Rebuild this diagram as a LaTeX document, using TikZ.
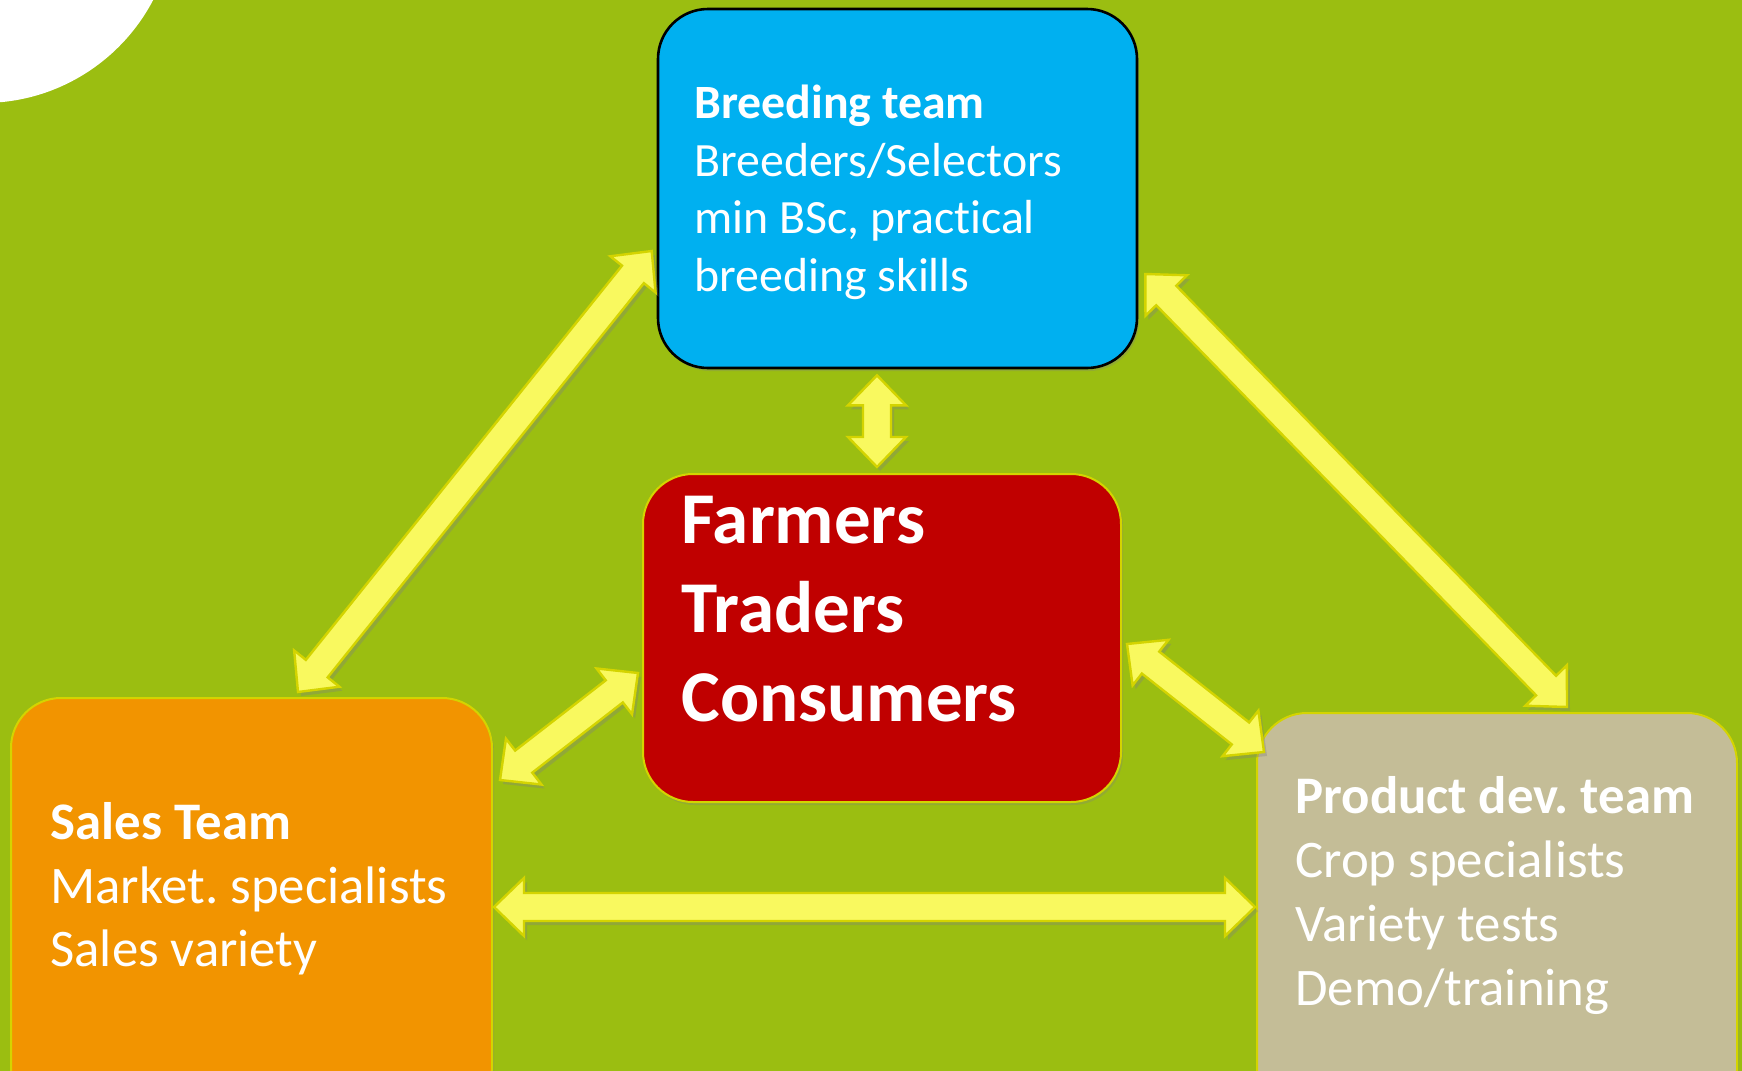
\documentclass[tikz,border=0pt]{standalone}
\usepackage{fontspec}
\setmainfont{Carlito}[Ligatures=NoCommon]
\frenchspacing
\usetikzlibrary{calc, shadows}

\definecolor{leafgreen}{RGB}{155,190,17}
\definecolor{breedblue}{RGB}{0,176,240}
\definecolor{farmred}{RGB}{192,0,0}
\definecolor{salesorange}{RGB}{242,148,0}
\definecolor{prodtan}{RGB}{196,189,151}
\definecolor{arrowyellow}{RGB}{249,249,95}
\definecolor{rimyellow}{RGB}{212,212,0}

% fat two-headed arrow between two named points
\newcommand\fatarrow[2]{\filldraw[fatarrow] (#1) -- ($(#1)!15pt!(#2)!14.5pt!90:(#2)$) -- ($(#1)!15pt!(#2)!7pt!90:(#2)$) -- ($(#2)!15pt!(#1)!7pt!-90:(#1)$) -- ($(#2)!15pt!(#1)!14.5pt!-90:(#1)$) -- (#2) -- ($(#2)!15pt!(#1)!14.5pt!90:(#1)$) -- ($(#2)!15pt!(#1)!7pt!90:(#1)$) -- ($(#1)!15pt!(#2)!7pt!-90:(#2)$) -- ($(#1)!15pt!(#2)!14.5pt!-90:(#2)$) -- cycle;}

\tikzset{
  teambox/.style={draw=rimyellow, line width=1pt, rounded corners=25pt, inner sep=0pt, drop shadow={opacity=0.3, shadow xshift=1pt, shadow yshift=-1.5pt}},
  teamtext/.style={text=white, align=left, inner sep=0pt, anchor=north west},
  fatarrow/.style={fill=arrowyellow, draw=rimyellow, line width=1.2pt, line join=miter, drop shadow={opacity=0.35, shadow xshift=1.5pt, shadow yshift=-2pt}}
}

\begin{document}
\begin{tikzpicture}[x=0.5pt, y=-0.5pt]
\useasboundingbox (0,0) rectangle (1742,1071);
\clip (0,0) rectangle (1742,1071);
\fill[leafgreen] (0,0) rectangle (1742,1071);
\fill[white] (-17,-89) circle (96pt);

% the four boxes
\node[teambox, draw=black, line width=1.3pt, fill=breedblue, minimum width=239.5pt, minimum height=179.5pt] (breed) at (897.5,188.5) {};
\node[teambox, fill=farmred, minimum width=239pt, minimum height=164pt] (farm) at (882,638) {};
\node[teambox, fill=salesorange, minimum width=240.5pt, minimum height=211pt] (sales) at (251.5,909) {};
\node[teambox, fill=prodtan, minimum width=240pt, minimum height=203.5pt] (prod) at (1497,916.5) {};

% arrow ends
\coordinate (bf1) at ([shift={(-20.5,6)}]breed.south);
\coordinate (bf2) at ([shift={(-5,-6)}]farm.north);
\coordinate (bs1) at ([shift={(-5,62.5)}]breed.west);
\coordinate (bs2) at ([shift={(46.5,-5)}]sales.north);
\coordinate (bp1) at ([shift={(7,85.5)}]breed.east);
\coordinate (bp2) at ([shift={(70,-5)}]prod.north);
\coordinate (fs1) at ([shift={(-4,35)}]farm.west);
\coordinate (fs2) at ([shift={(7,-129)}]sales.east);
\coordinate (fp1) at ([shift={(5,6)}]farm.east);
\coordinate (fp2) at ([shift={(8,-164.5)}]prod.west);
\coordinate (sp1) at ([shift={(1,-2)}]sales.east);
\coordinate (sp2) at ([shift={(-1,-9.5)}]prod.west);

\fatarrow{bf1}{bf2}
\fatarrow{bs1}{bs2}
\fatarrow{bp1}{bp2}
\fatarrow{fs1}{fs2}
\fatarrow{fp1}{fp2}
\fatarrow{sp1}{sp2}

% texts
\node[teamtext, font=\fontsize{23.9}{28.75}\selectfont] (breedtxt) at (694,85) {\textbf{Breeding team}\\Breeders/Selectors\\min BSc, practical\\breeding skills};
\node[teamtext, font=\bfseries\fontsize{36.5}{44.5}\selectfont] (farmtxt) at (681,496) {Farmers\\Traders\\Consumers};
\node[teamtext, font=\fontsize{26.4}{31.8}\selectfont] (salestxt) at (50,802) {\textbf{Sales Team}\\Market. specialists\\Sales variety};
\node[teamtext, font=\fontsize{26.4}{32}\selectfont] (prodtxt) at (1295,776) {\textbf{Product dev. team}\\Crop specialists\\Variety tests\\Demo/training};
\end{tikzpicture}
\end{document}
